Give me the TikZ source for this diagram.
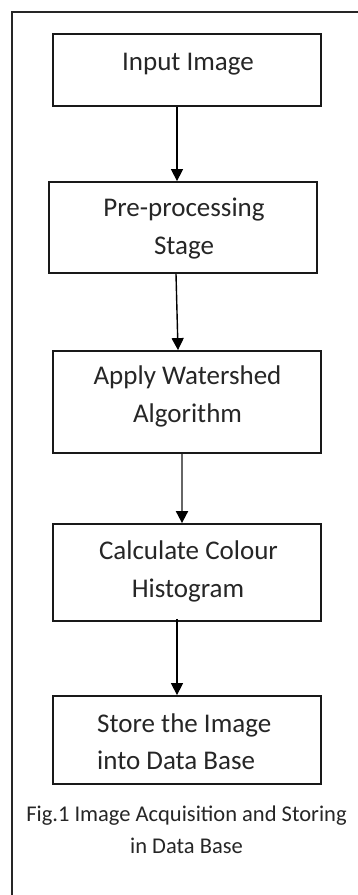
\documentclass[tikz,border=0pt]{standalone}
\usepackage{fontspec}
\setmainfont{Carlito}
\usetikzlibrary{arrows.meta,calc}
\tikzset{
  box/.style={draw=black!90, line width=1.8pt, inner sep=0pt, minimum width=268pt},
  txt/.style={anchor=base, inner sep=0pt, font=\fontsize{27}{32}\selectfont, text=black!85},
  captxt/.style={anchor=base, inner sep=0pt, font=\fontsize{22.5}{28}\selectfont, text=black!85},
  arr/.style={line width=1.4pt, draw=black, -{Triangle[width=12pt,length=12pt]}},
  garr/.style={line width=1.9pt, draw=black!60, -{Triangle[width=12pt,length=12pt,color=black,fill=black]}},
  outerframe/.style={line width=1.6pt, draw=black!85}
}
\begin{document}
\begin{tikzpicture}[x=1pt,y=-1pt]
\useasboundingbox (0,0) rectangle (358,895);
\fill[white] (0,0) rectangle (358,895);
% outer frame (only left and top edges visible)
\coordinate (fa) at (12,895);
\coordinate (fb) at (12,12);
\coordinate (fc) at (358,12);
\draw[outerframe] (fa) -- (fb) -- (fc);
% boxes
\node[box, minimum height=72pt]  (b1) at (187,70) {};
\node[box, minimum height=91pt]  (b2) at (183,227.5) {};
\node[box, minimum height=102pt] (b3) at (187,402) {};
\node[box, minimum height=97pt]  (b4) at (187,572.5) {};
\node[box, minimum height=88pt]  (b5) at (187,740) {};
% texts
\node[txt] (t1)  at (188,70)  {Input Image};
\node[txt] (t2a) at (184,216) {Pre-processing};
\node[txt] (t2b) at (184,254) {Stage};
\node[txt] (t3a) at (187.5,384) {Apply Watershed};
\node[txt] (t3b) at (187.5,422) {Algorithm};
\node[txt] (t4a) at (188.5,559) {Calculate Colour};
\node[txt] (t4b) at (188,597) {Histogram};
\node[txt, anchor=base west] (t5a) at (97,732) {Store the Image};
\node[txt, anchor=base west] (t5b) at (97,769) {into Data Base};
\node[captxt] (c1) at (186.5,821) {Fig.1 Image Acquisition and Storing};
\node[captxt] (c2) at (186.5,853) {in Data Base};
% connectors
\draw[arr]  ($(b1.south)+(-10,0)$) -- ($(b2.north)+(-6,0)$);
\draw[arr]  ($(b2.south)+(-7,0)$) -- ($(b3.north)+(-9,0)$);
\draw[garr] ($(b3.south)+(-5,0)$) -- ($(b4.north)+(-5,0)$);
\draw[arr]  ($(b4.south)+(-10,-3)$) -- ($(b5.north)+(-10,0)$);
\end{tikzpicture}
\end{document}
